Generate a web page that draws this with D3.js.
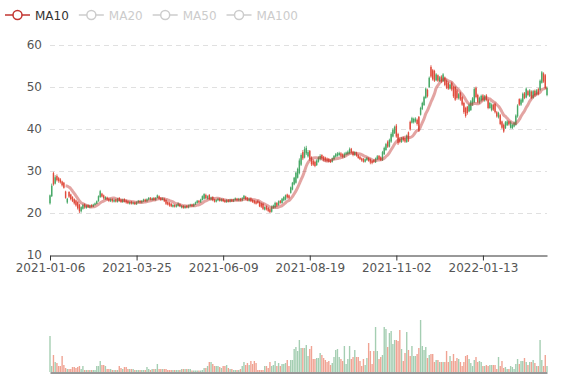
<!DOCTYPE html>
<html><head><meta charset="utf-8">
<script src="https://cdn.jsdelivr.net/npm/d3@7/dist/d3.min.js"></script>
<style>html,body{margin:0;padding:0;background:#fff;} svg{display:block;font-family:'DejaVu Sans',sans-serif;}</style>
</head><body><svg id="c" width="577" height="380"></svg>
<script>
// ---- data (daily candles, 288 trading days) ----
const openP = [
22.3,24,29.5,27,28.8,28.3,28,27.5,27.2,25.1,
22.5,25,24.4,23.8,23.3,23,22.6,22,20.4,21,
22.1,21.2,21.9,21.3,21.9,21.5,21.9,22.2,22.8,23.8,
24.6,24.2,23.3,23.7,23.4,22.8,23.3,22.7,23.2,22.6,
23.6,23.2,22.6,23.3,23,22.8,22.2,22.7,22.2,22.5,
22.1,22.5,22.9,22.5,22.8,23.2,22.8,23.2,23.6,23.1,
23.6,23.1,23.6,24,23.6,23.1,23.4,23.1,22.6,22.4,
22.2,21.5,21.9,21.5,21.7,22.1,21.3,21.7,21.2,
21.7,21.3,21.7,22,21.6,22,22.4,22.9,22.5,23.1,
23.4,24.3,23.4,24.3,23.2,23.8,23.2,22.7,23,23.4,
22.9,23.3,23,22.6,23.1,22.7,23.2,22.8,23.1,23.4,
23,23.4,23,23.4,23.9,23.6,22.9,23.5,23.1,22.9,
22.7,22.9,22.6,22.3,22.2,20.8,21.6,21.2,20.9,20.3,
21.2,21.3,22.4,21.9,22.9,22.4,23,23.2,24.4,24.2,
24.8,25.6,26.8,27.2,28.4,29.5,31.5,34.5,33.2,34.2,
33.5,34.8,33.2,32.5,32.2,31.4,32.2,32.8,33.8,33.4,
33.2,33,32.9,32.6,32.2,32.8,33.4,33.6,33.8,34.2,
34,33.3,33.9,34,34.2,35.3,34.6,33.8,34.4,33.8,
33.4,33,32.9,32.2,32.6,33.1,32.8,32.4,32.6,32.1,
32.8,33.6,33.3,32.6,34,35,37,35.8,37,38.2,
39,40.8,38.8,37.6,36.9,38,37.8,36.9,39.2,41.7,
41.5,41.6,41.8,42.2,42.9,43.4,44.8,45.7,47.4,49.3,
50,54.8,54,53.8,51.6,52.8,51.4,52.5,51.4,52.2,
51.5,51,49.6,51,50,50,49.2,47.3,48.6,47.6,
46.2,45,45.3,44.2,44.5,45.8,46.4,49.8,48.1,
46.3,46.8,48,46.8,48,46.9,45,44.5,45.8,46,
44,42.8,43.3,41.8,41,40.2,40.9,41.8,40.3,40.2,
40.6,41,43,47.1,45.8,46.5,48.5,47.5,49,47.8,
48.9,47.4,49.1,48.2,49.5,49.3,51,53.2,52.8,48.1];
const closeP = [
24.2,26.5,26.8,28.5,27.8,27.6,27.3,26.6,26,23.6,
23.4,23.9,23.3,22.8,22.3,21.8,21.1,20.4,21.4,21.9,
21.3,21.8,21.4,21.8,21.5,22,22.3,22.8,24,25.2,
23.9,23.5,23.8,23.2,22.9,23.3,22.8,23.1,22.7,23.4,
22.9,22.6,23.2,22.7,22.5,22.3,22.6,22.2,22.5,22.1,
22.6,22.9,22.5,22.9,23.2,22.8,23.3,23.6,23.2,23.5,
23.1,23.6,24.2,23.4,23.1,23.5,22.8,22.2,22,21.8,
21.6,21.9,21.5,21.9,22.3,21.6,21.7,21.2,21.6,
21.3,21.8,22,21.6,22.1,22.5,22.9,22.5,23.2,24,
24.5,23.5,24,23.3,23.7,23,22.7,23.1,23.4,22.9,
23.3,22.8,22.6,23.1,22.7,23.2,22.8,23.2,23.5,23,
23.4,23,23.5,24.1,23.3,23,23.4,22.8,22.6,22.4,
22.2,22.4,21.6,21.5,21,21.4,20.9,20.5,20.2,21.5,
21.8,22.4,21.7,22.8,22.4,23.4,23.8,24.2,23.7,23.6,
26.1,27.2,28.4,29.6,30.5,32.5,33.8,33,35.2,35.5,
34.5,32.8,31.6,31.5,31.2,32.5,33.2,33.6,33,32.6,
32.5,32.4,32.2,32.1,33,33.6,34,34.2,34.3,33.6,
33.4,34.1,34.4,34.6,35.2,34.4,33.8,34.5,33.6,33.1,
32.8,32.5,32.2,32.8,33.2,32.4,32,31.9,32.2,33,
33.5,32.9,32.6,34.5,35.5,36.4,35.8,37.4,38.8,39.8,
40.5,38.2,36.6,36.9,37.8,37.3,37,38.4,37.2,39.9,
42.6,42.4,42.5,41.2,39.6,45,46.2,47.6,49.6,47.8,
52.2,52.5,51.8,51.5,53,51.5,52.3,51.3,53,50.5,
49.8,49.6,50.6,49.4,47.8,47,47.4,48.3,47,45.8,
44,43.1,43.8,45.8,46.6,47.3,49.5,47.6,46.4,
47.4,47.9,46.9,47.8,46.9,45,46.2,45.8,44.6,44,
43,43.8,41.2,40.3,39.4,41.6,41.8,41.1,41.6,41,
41.5,43.2,45.6,45.8,47,48.4,47.4,49.6,48.1,49.2,
47.4,49,48,49.2,48.3,51.5,53.5,51.3,49.8,49.8];
const lowP = [
22,23.8,26.5,26.8,27.5,27.2,27,26.3,25.8,23.4,
22.2,23.6,23,22.6,22,21.5,20.8,20,20.1,20.8,
21,21,21.2,21.1,21.3,21.4,21.8,22.1,22.7,23.6,
23.7,23.2,23.1,23,22.6,22.6,22.5,22.5,22.5,22.5,
22.7,22.4,22.4,22.5,22.2,22.1,22,22,22,21.9,
21.9,22.3,22.3,22.3,22.6,22.6,22.6,23,23,22.9,
22.9,22.9,23.5,23.2,22.9,23,22.6,21.9,21.8,21.5,
21.4,21.3,21.3,21.3,21.5,21.4,21.1,21,21,
21.1,21.1,21.5,21.4,21.4,21.9,22.2,22.3,22.4,23,
23.2,23.3,23.2,23.1,23,22.8,22.5,22.5,22.8,22.7,
22.7,22.6,22.4,22.4,22.5,22.5,22.6,22.6,22.9,22.8,
22.8,22.8,22.8,23.3,23.1,22.8,22.7,22.6,22.4,22.1,
22,22.2,21.4,21.2,20.7,20.6,20.6,20.2,20,20.1,
21,21.1,21.4,21.7,22.2,22.2,22.8,23,23.4,23.3,
24.6,25.4,26.6,27,28.2,29.2,31.2,32.6,33,33.8,
33.2,32.4,31.2,31.2,30.9,31.2,32,32.5,32.7,32.3,
32.2,32.1,32,31.9,32,32.6,33.2,33.4,33.6,33.3,
33.1,33.1,33.7,33.8,34,34.1,33.5,33.6,33.4,32.9,
32.6,32.2,32,32,32.4,32.2,31.6,31.6,31.9,31.9,
32.6,32.6,32.4,32.4,33.8,34.8,35.5,35.6,36.7,38,
38.8,37.9,36.2,36.6,36.7,37,36.7,36.7,36.9,39.6,
41.3,41.3,41.5,40.8,39.3,43.2,44.5,45.5,47.2,47.5,
49.8,52.2,51.5,51.2,51.4,51.2,51.2,51,51.2,50.2,
49.5,49.3,49.4,49,47.4,46.7,47,47,46.7,45.5,
43.6,42.7,43.4,44,44.3,45.5,46.2,47.3,46.1,
46,46.5,46.6,46.5,46.6,44.7,44.8,44.2,44.3,43.7,
42.7,42.5,40.9,40,39.1,40,40.7,40.8,40.1,40,
40.4,40.8,42.7,45.5,45.5,46.2,47.1,47.3,47.8,47.6,
47.1,47.2,47.7,48,48,49,50.8,51,49.5,47.8];
const highP = [
24.4,27,29.8,29,29.2,28.6,28.3,27.7,27.4,25.3,
23.6,25.2,24.6,24,23.5,23.2,22.8,22.2,21.6,22.2,
22.3,22,22.1,22,22.1,22.2,22.5,23,24.2,25.5,
24.8,24.4,24,23.9,23.6,23.5,23.5,23.4,23.4,23.6,
23.8,23.4,23.4,23.5,23.2,23,22.8,22.9,22.7,22.7,
22.8,23.1,23.1,23.1,23.4,23.4,23.5,23.8,23.8,23.7,
23.8,23.8,24.4,24.2,23.8,23.7,23.6,23.3,22.8,22.6,
22.4,22.1,22.1,22.1,22.5,22.3,21.9,21.9,21.8,
21.9,22,22.2,22.2,22.3,22.7,23.1,23.1,23.4,24.2,
24.7,24.6,24.2,24.5,23.9,24,23.4,23.3,23.6,23.6,
23.5,23.5,23.2,23.3,23.3,23.4,23.4,23.4,23.7,23.6,
23.6,23.6,23.8,24.3,24.1,23.8,23.6,23.7,23.3,23.1,
22.9,23.1,22.8,22.5,22.4,21.6,21.8,21.4,21.1,21.8,
22,22.7,22.6,23,23.1,23.6,24,24.4,24.6,24.4,
26.3,27.4,28.6,29.8,30.8,33,34.2,35,35.8,36,
35,35,33.5,32.8,32.5,32.8,33.5,34,34,33.6,
33.4,33.2,33.1,32.8,33.2,33.8,34.3,34.5,34.6,34.5,
34.2,34.4,34.6,34.9,35.6,35.5,34.8,34.7,34.6,34,
33.6,33.2,33.1,33,33.4,33.3,33,32.6,32.8,33.2,
33.8,33.8,33.5,34.8,35.8,36.7,37.3,37.7,39.2,40.2,
40.8,41.2,39.1,38,38.1,38.2,38,38.7,39.4,42,
42.9,42.7,42.8,42.5,43.1,45.3,46.5,47.9,49.9,49.6,
52.5,55.2,54.3,54.1,53.3,53,52.6,52.8,53.3,52.5,
51.8,51.3,50.9,51.3,50.3,50.2,49.5,48.6,48.9,47.9,
46.5,45.3,45.5,46.1,46.9,47.6,49.9,50.1,48.4,
47.7,48.2,48.3,48.1,48.3,47.2,46.5,46.1,46,46.3,
44.3,44.1,43.6,42,41.3,41.9,42.1,42,41.9,41.3,
41.8,43.5,45.9,47.3,47.3,48.7,48.8,49.9,49.3,49.5,
49.2,49.3,49.4,49.5,49.8,51.8,53.8,53.5,53.1,50.1];
const volume = [
36,6,17,10,9,6,6,16,7,4,
3,3,3,5,5,4,5,6,3,6,
2,2,2,2,2,2,2,6,6,11,
7,7,6,3,3,3,2,2,2,2,
6,4,3,5,5,3,3,3,3,2,
2,2,2,2,2,2,5,3,2,3,
3,3,8,3,3,3,3,3,2,2,
2,2,2,2,2,2,3,3,3,
3,3,3,1.5,1.5,1.5,1.5,1.5,1.5,2,
4,4,6,10,10,8,6,6,6,5,
4,6,6,7,4,3,3,2,2,2,
2,3,6,10,7,9,7,11,8,11,
9,2,2,2,2,6,6,4,10,6,
7,11,6,9,6,8,8,9,12,6,
12,12,23,25,21,32,24,24,24,27,
16,23,26,13,13,14,14,19,17,14,
12,10,11,7,9,15,22,23,15,13,
11,26,8,13,26,13,15,22,15,15,
11,6,13,7,14,29,21,8,21,45,
21,13,15,17,45,43,25,39,41,28,
32,32,31,42,23,11,19,40,22,16,
26,16,16,18,24,52,26,22,25,14,
17,18,18,10,12,12,10,10,10,10,
21,10,16,11,18,11,14,13,10,6,
10,16,17,13,9,6,12,15,10,
11,10,6,6,7,6,7,7,7,7,
3,15,6,11,4,5,3,3,6,5,
3,8,13,8,11,11,14,10,7,10,
10,12,9,6,6,32,12,6,17,6];
const tickLabels = ['2021-01-06','2021-03-25','2021-06-09','2021-08-19','2021-11-02','2022-01-13'];
const tickIndex = [0,50,100,150,200,250];
const yTicks = [10,20,30,40,50,60];
const legendNames = ['MA10','MA20','MA50','MA100'];
const legendOn = [true,false,false,false];
const maWindow = 10;

// ---- drawing ----
const N = closeP.length;
const upColor = '#47a866', downColor = '#e04b3c';
const upVol = '#a4ceb2', downVol = '#f0a393';
const maColor = '#c23531';
const labelColor = '#555';
const svg = d3.select('#c');
const x = d3.scalePoint().domain(d3.range(N)).range([50, 547]);
const y = d3.scaleLinear().domain([10, 60]).range([255, 45]);
const yv = d3.scaleLinear().domain([0, 60]).range([372, 312]);
const step = x.step();
const bw = Math.max(1, step * 0.8);

// grid
svg.append('g').selectAll('line').data(yTicks.filter(t => t !== 10)).join('line')
  .attr('x1', 50).attr('x2', 547).attr('y1', d => y(d) + 0.5).attr('y2', d => y(d) + 0.5)
  .attr('stroke', '#e0e0e0').attr('stroke-dasharray', '5,4');

// y axis labels
const ya = svg.append('g').attr('transform', 'translate(50,0)')
  .call(d3.axisLeft(y).tickValues(yTicks).tickSize(0).tickPadding(8));
ya.select('.domain').remove();
ya.selectAll('text').attr('fill', labelColor).style('font-size', '12px').style('font-family', "'DejaVu Sans',sans-serif");

// x axis
const xa = svg.append('g').attr('transform', 'translate(0,255.5)')
  .call(d3.axisBottom(x).tickValues(tickIndex).tickFormat((d, i) => tickLabels[i]).tickSize(5).tickSizeOuter(0).tickPadding(3));
xa.select('.domain').attr('stroke', '#333');
xa.selectAll('.tick line').attr('stroke', '#333');
xa.selectAll('text').attr('fill', labelColor).style('font-size', '12px').style('font-family', "'DejaVu Sans',sans-serif");

// candles
const idx = d3.range(N);
const cg = svg.append('g');
cg.selectAll('line').data(idx).join('line')
  .attr('x1', i => x(i)).attr('x2', i => x(i))
  .attr('y1', i => y(highP[i])).attr('y2', i => y(lowP[i]))
  .attr('stroke', i => closeP[i] >= openP[i] ? upColor : downColor).attr('stroke-width', 0.8);
cg.selectAll('rect').data(idx).join('rect')
  .attr('x', i => x(i) - 0.7).attr('width', 1.4)
  .attr('y', i => y(Math.max(openP[i], closeP[i])))
  .attr('height', i => Math.max(0.8, Math.abs(y(openP[i]) - y(closeP[i]))))
  .attr('fill', i => closeP[i] >= openP[i] ? upColor : downColor);

// MA10
const ma = idx.map(i => i < maWindow - 1 ? null : d3.mean(closeP.slice(i - maWindow + 1, i + 1)));
svg.append('path').datum(idx.filter(i => ma[i] !== null))
  .attr('d', d3.line().x(i => x(i)).y(i => y(ma[i])).curve(d3.curveMonotoneX))
  .attr('fill', 'none').attr('stroke', maColor).attr('stroke-opacity', 0.45).attr('stroke-width', 3);

// volume
svg.append('g').selectAll('rect').data(idx).join('rect')
  .attr('x', i => x(i) - bw / 2).attr('width', bw)
  .attr('y', i => yv(volume[i])).attr('height', i => yv(0) - yv(volume[i]))
  .attr('fill', i => closeP[i] >= openP[i] ? upVol : downVol);
const va = svg.append('g').attr('transform', 'translate(0,372.5)')
  .call(d3.axisBottom(x).tickValues([]).tickSizeOuter(0));
va.select('.domain').attr('stroke', '#333');

// legend
const lg = svg.append('g').style('font-size', '12px');
let lx = 5;
legendNames.forEach((name, k) => {
  const col = legendOn[k] ? maColor : '#ccc';
  const g = lg.append('g');
  g.append('line').attr('x1', lx).attr('x2', lx + 25).attr('y1', 15).attr('y2', 15).attr('stroke', col).attr('stroke-width', 1.5);
  g.append('circle').attr('cx', lx + 12.5).attr('cy', 15).attr('r', 4.5).attr('fill', '#fff').attr('stroke', col).attr('stroke-width', 1.5);
  const t = g.append('text').attr('x', lx + 30).attr('y', 19.5).attr('fill', legendOn[k] ? '#333' : '#ccc').text(name);
  lx += 30 + t.node().getComputedTextLength() + 10;
});
</script></body></html>
